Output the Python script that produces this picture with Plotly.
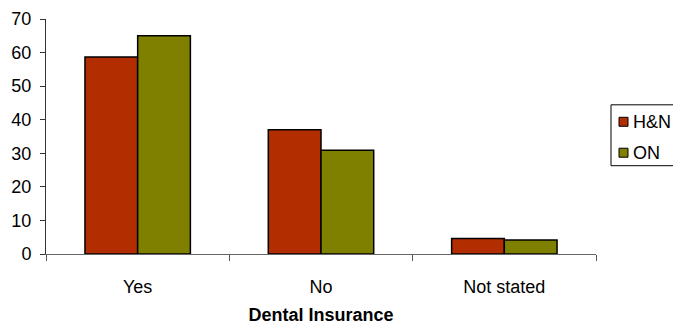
import plotly.graph_objects as go

# Dental insurance coverage by group (percent)
categories = ["Yes", "No", "Not stated"]
hn_values = [58.7, 37.0, 4.6]
on_values = [65.0, 30.9, 4.2]
series_names = ["H&N", "ON"]
y_ticks = [0, 10, 20, 30, 40, 50, 60, 70]

FONT = "Liberation Sans, Arial, sans-serif"
COLORS = ["#B22E00", "#808000"]

# plot-area geometry in pixels, used to place the legend box in paper units
W, H = 673, 325
L, R, T, B = 46, 77, 19, 70.5
PW, PH = W - L - R, H - T - B


def px_x(x):
    return (x - L) / PW


def px_y(y):
    return (H - B - y) / PH


fig = go.Figure()
for name, vals, col in zip(series_names, [hn_values, on_values], COLORS):
    fig.add_trace(go.Bar(
        x=categories, y=vals, name=name,
        marker=dict(color=col, line=dict(color="#000000", width=1.5)),
        showlegend=False,
    ))

# legend box, partly running off the right edge
shapes = [dict(
    type="rect", xref="paper", yref="paper",
    x0=px_x(611), x1=px_x(720), y0=px_y(166), y1=px_y(105),
    line=dict(color="#000000", width=1), fillcolor="rgba(0,0,0,0)",
)]
annotations = []
for i, (name, col) in enumerate(zip(series_names, COLORS)):
    cy = 122 + i * 31
    shapes.append(dict(
        type="rect", xref="paper", yref="paper",
        x0=px_x(619), x1=px_x(628), y0=px_y(cy + 4.5), y1=px_y(cy - 4.5),
        line=dict(color="#000000", width=1), fillcolor=col,
    ))
    annotations.append(dict(
        xref="paper", yref="paper", x=px_x(631), y=px_y(cy),
        xanchor="left", yanchor="middle", showarrow=False,
        text=name, font=dict(family=FONT, size=18, color="#000000"),
    ))

fig.update_layout(
    width=W, height=H,
    margin=dict(l=L, r=R, t=T, b=B, autoexpand=False),
    paper_bgcolor="white", plot_bgcolor="white",
    barmode="group", bargap=0.425, bargroupgap=0,
    font=dict(family=FONT, size=18, color="#000000"),
    showlegend=False,
    shapes=shapes,
    annotations=annotations,
    xaxis=dict(
        showline=True, linecolor="#666666", linewidth=1,
        ticks="outside", tickson="boundaries", ticklen=6, tickcolor="#555555",
        ticklabelstandoff=16,
        showgrid=False,
        title=dict(text="<b>Dental Insurance</b>", font=dict(family=FONT, size=18), standoff=12),
    ),
    yaxis=dict(
        range=[0, 70], tickvals=y_ticks,
        showline=True, linecolor="#333333", linewidth=1,
        ticks="outside", ticklen=5, tickcolor="#333333",
        ticklabelstandoff=5,
        showgrid=False, zeroline=False,
    ),
)

fig.write_html("out.html")
